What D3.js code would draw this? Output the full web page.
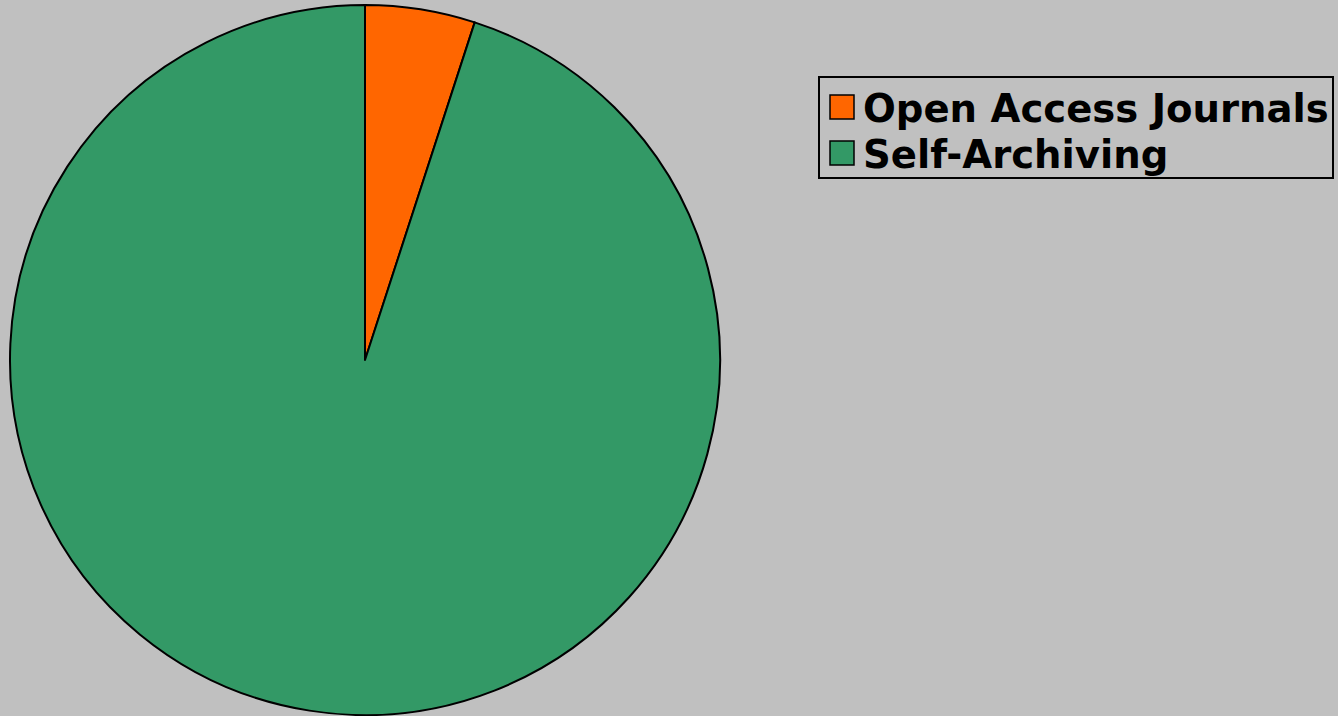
<!DOCTYPE html>
<html>
<head>
<meta charset="utf-8">
<script src="https://cdn.jsdelivr.net/npm/d3@7"></script>
<style>
  html, body { margin: 0; padding: 0; background: #c0c0c0; }
  svg { display: block; }
</style>
</head>
<body>
<div id="chart"></div>
<script>
var categories = ["Open Access Journals", "Self-Archiving"];
var values = [5, 95];
var colors = ["#ff6600", "#339966"];

var w = 1338,
    h = 716;

var svg = d3.select("#chart").append("svg")
    .attr("width", w)
    .attr("height", h);

svg.append("rect")
    .attr("width", w)
    .attr("height", h)
    .attr("fill", "#c0c0c0");

// pie
var cx = 365, cy = 360, r = 355;

var pie = d3.pie().sort(null).value(function(d) { return d; });
var arc = d3.arc().innerRadius(0).outerRadius(r);

var g = svg.append("g").attr("transform", "translate(" + cx + "," + cy + ")");

g.selectAll("path")
    .data(pie(values))
    .enter()
    .append("path")
    .attr("d", arc)
    .attr("fill", function(d, i) { return colors[i]; })
    .attr("stroke", "#000")
    .attr("stroke-width", 2)
    .attr("stroke-linejoin", "round");

// legend
var lx = 819, ly = 77, lw = 514, lh = 101;

var leg = svg.append("g");

leg.append("rect")
    .attr("x", lx)
    .attr("y", ly)
    .attr("width", lw)
    .attr("height", lh)
    .attr("fill", "#c0c0c0")
    .attr("stroke", "#000")
    .attr("stroke-width", 2);

var row = leg.selectAll("g.row")
    .data(categories)
    .enter()
    .append("g")
    .attr("class", "row")
    .attr("transform", function(d, i) { return "translate(0," + (i * 46) + ")"; });

row.append("rect")
    .attr("x", 830)
    .attr("y", 95)
    .attr("width", 24)
    .attr("height", 24)
    .attr("fill", function(d, i) { return colors[i]; })
    .attr("stroke", "#000")
    .attr("stroke-width", 1.5);

var labels = row.append("text")
    .attr("x", 863)
    .attr("y", 122)
    .attr("font-family", "DejaVu Sans, Verdana, sans-serif")
    .attr("font-weight", "bold")
    .attr("font-size", 36)
    .attr("fill", "#000")
    .text(function(d) { return d; });

// scale the font so the longest label spans its width in the picture
var tw = labels.node().getComputedTextLength();
labels.attr("font-size", 36 * 466 / tw);
</script>
</body>
</html>
